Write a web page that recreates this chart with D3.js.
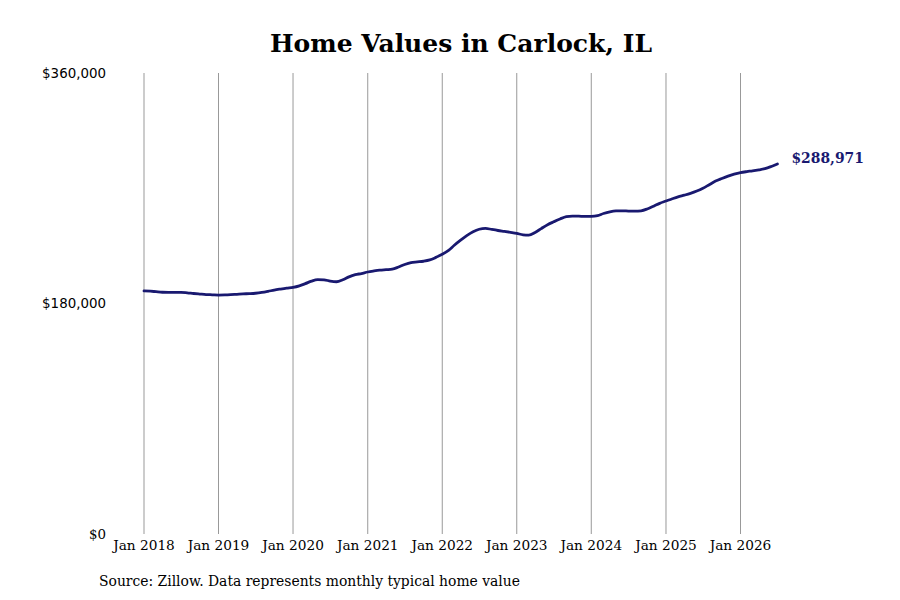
<!DOCTYPE html>
<html>
<head>
    <meta charset="UTF-8">
    <script src="https://d3js.org/d3.v7.min.js"></script>
    <title>Home Values in Carlock, IL</title>
    <style>
        body { margin: 0; background: #fff; }
    </style>
</head>
<body>
    <svg id="chart" width="900" height="600"></svg>
    <script>
        // monthly typical home value, Jan 2018 .. Jul 2026 (thousands of $)
        const startMonth = new Date(2018, 0, 1);
        const values = [
            189.8, 189.6, 189.2, 188.8, 188.7, 188.7, 188.7, 188.3, 187.8, 187.4, 187.0, 186.8,
            186.6, 186.7, 186.9, 187.2, 187.5, 187.7, 188.0, 188.6, 189.5, 190.5, 191.3, 192.0,
            192.6, 193.8, 195.5, 197.5, 198.6, 198.5, 197.5, 197.0, 198.5, 200.8, 202.5, 203.4,
            204.6, 205.4, 206.0, 206.4, 206.8, 208.5, 210.5, 212.0, 212.5, 213.0, 214.0, 216.0,
            218.4, 221.5, 225.5, 229.5, 233.0, 236.0, 238.0, 238.7, 237.8, 237.0, 236.3, 235.6,
            234.8, 233.6, 233.4, 235.5, 238.5, 241.5, 243.8, 246.0, 247.8, 248.3, 248.2, 248.0,
            248.0, 248.6, 250.3, 251.6, 252.3, 252.4, 252.2, 252.1, 252.4, 253.8, 256.0, 258.2,
            260.0, 261.8, 263.3, 264.6, 266.0, 267.8, 270.0, 272.8, 275.6, 277.6, 279.5, 281.0,
            282.2, 283.0, 283.6, 284.4, 285.3, 287.0, 288.971
        ];
        const yTicks = [0, 180000, 360000];
        const yTickLabels = ['$0', '$180,000', '$360,000'];
        const xTickYears = [2018, 2019, 2020, 2021, 2022, 2023, 2024, 2025, 2026];
        const lastLabel = '$288,971';

        const data = values.map((v, i) => ({
            date: d3.timeMonth.offset(startMonth, i),
            value: v * 1000
        }));

        const svg = d3.select('#chart');
        const lineColor = '#191970';

        const x = d3.scaleTime()
            .domain([new Date(2018, 0, 1), new Date(2026, 0, 1)])
            .range([144, 740.5]);
        const y = d3.scaleLinear()
            .domain([0, 360000])
            .range([534, 73]);

        // title
        svg.append('text')
            .attr('x', 461)
            .attr('y', 52)
            .attr('text-anchor', 'middle')
            .style('font-family', '"DejaVu Serif", serif')
            .style('font-weight', 'bold')
            .style('font-size', '25px')
            .text('Home Values in Carlock, IL');

        // vertical gridlines at each January
        const xTicks = xTickYears.map(yr => new Date(yr, 0, 1));
        svg.append('g')
            .selectAll('line')
            .data(xTicks)
            .join('line')
            .attr('x1', d => x(d))
            .attr('x2', d => x(d))
            .attr('y1', y(360000))
            .attr('y2', y(0))
            .attr('stroke', '#999')
            .attr('stroke-width', 1);

        // x labels
        svg.append('g')
            .selectAll('text')
            .data(xTicks)
            .join('text')
            .attr('x', d => x(d))
            .attr('y', 550)
            .attr('text-anchor', 'middle')
            .style('font-family', '"DejaVu Serif", serif')
            .style('font-size', '13.7px')
            .text(d => 'Jan ' + d.getFullYear());

        // y labels
        svg.append('g')
            .selectAll('text')
            .data(yTicks)
            .join('text')
            .attr('x', 106)
            .attr('y', d => y(d))
            .attr('dy', '0.35em')
            .attr('text-anchor', 'end')
            .style('font-family', (d, i) => i === 0 ? '"DejaVu Serif", serif' : '"DejaVu Sans", sans-serif')
            .style('font-size', '13.4px')
            .text((d, i) => yTickLabels[i]);

        // line
        const line = d3.line()
            .x(d => x(d.date))
            .y(d => y(d.value))
            .curve(d3.curveMonotoneX);

        svg.append('path')
            .datum(data)
            .attr('d', line)
            .attr('fill', 'none')
            .attr('stroke', lineColor)
            .attr('stroke-width', 2.8)
            .attr('stroke-linecap', 'round');

        // end label
        const last = data[data.length - 1];
        svg.append('text')
            .attr('x', x(last.date) + 14)
            .attr('y', y(last.value) - 6)
            .attr('dy', '0.35em')
            .attr('fill', lineColor)
            .style('font-family', '"DejaVu Serif", serif')
            .style('font-weight', 'bold')
            .style('font-size', '13.9px')
            .text(lastLabel);

        // source note
        svg.append('text')
            .attr('x', 99)
            .attr('y', 586)
            .style('font-family', '"DejaVu Serif", serif')
            .style('font-size', '13.9px')
            .text('Source: Zillow. Data represents monthly typical home value');
    </script>
</body>
</html>
